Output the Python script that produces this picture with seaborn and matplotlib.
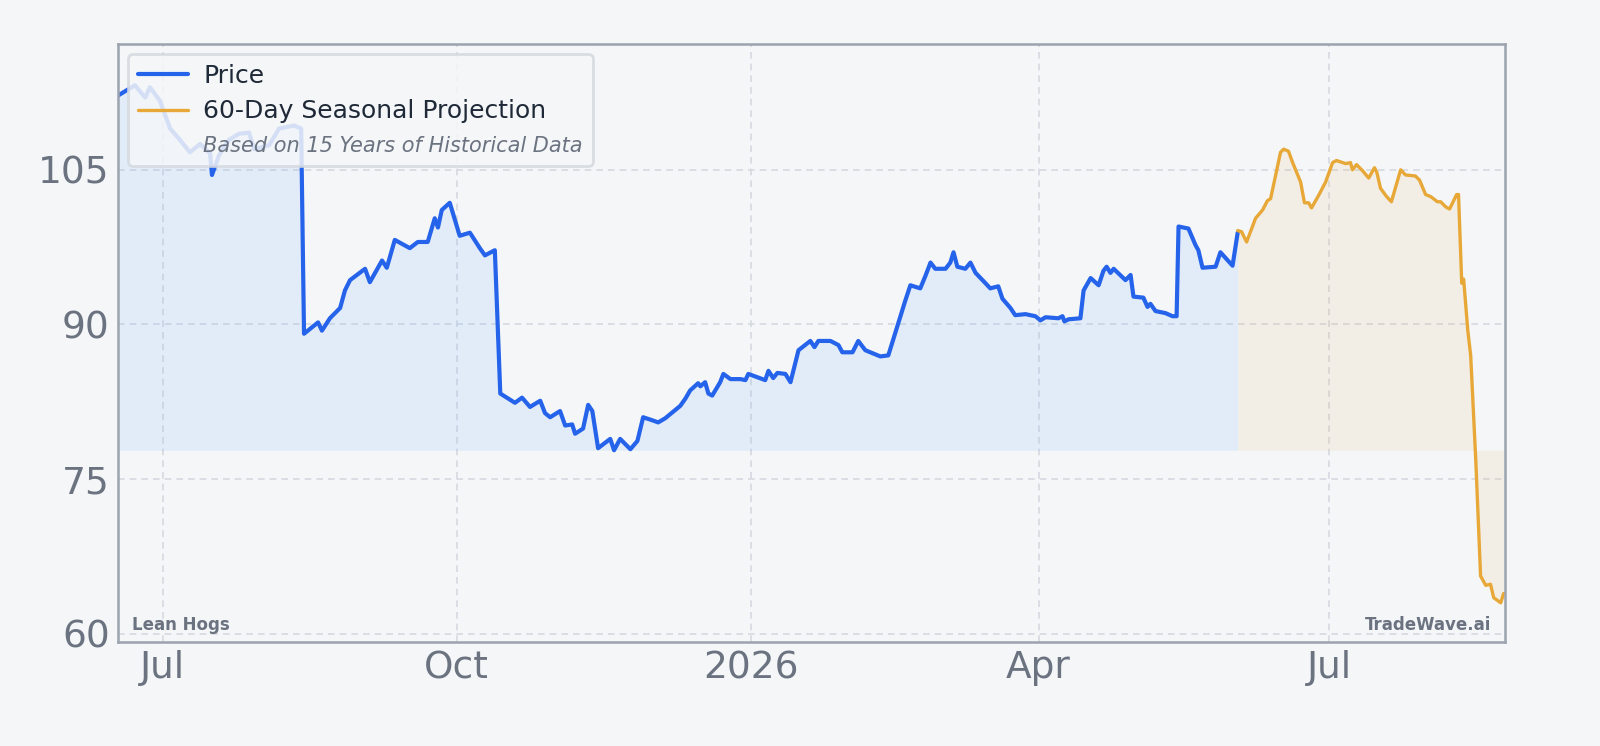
import numpy as np
import pandas as pd
import matplotlib
matplotlib.use("Agg")
import matplotlib.pyplot as plt
import seaborn as sns
from matplotlib.lines import Line2D

START = pd.Timestamp("2025-06-17")
# days since START
price_days = [0, 5.3, 8.5, 10.0, 13.1, 16.3, 19.4, 22.5, 25.7, 28.8, 29.4, 31.6, 34.7, 37.9, 41.0, 42.6, 47.3, 50.4, 55.1, 57.3, 58.2, 62.6, 63.8, 66.3, 69.5, 71.0, 72.6, 77.3, 78.8, 82.6, 84.1, 86.6, 91.3, 93.8, 96.9, 99.1, 100.1, 101.3, 103.8, 106.9, 110.1, 113.2, 114.8, 117.9, 119.6, 124.2, 126.4, 128.9, 132.1, 133.6, 135.2, 138.3, 139.9, 142.1, 143.0, 145.5, 147.1, 148.4, 150.2, 154.0, 155.2, 157.1, 160.3, 162.5, 164.3, 167.2, 169.0, 171.2, 175.9, 177.5, 179.0, 181.5, 182.2, 183.7, 184.7, 185.9, 188.4, 189.4, 191.6, 194.7, 196.3, 197.2, 202.5, 203.5, 205.0, 206.3, 208.8, 210.4, 212.9, 216.6, 217.9, 219.1, 222.9, 225.4, 226.6, 229.8, 231.6, 233.8, 238.5, 241.0, 246.3, 247.9, 251.0, 252.6, 254.2, 255.7, 258.9, 260.4, 261.4, 262.6, 265.1, 266.7, 268.3, 271.4, 272.9, 275.4, 276.7, 279.2, 280.7, 283.9, 287.0, 288.6, 290.2, 294.2, 295.5, 296.1, 297.4, 301.1, 302.1, 304.3, 306.8, 308.3, 309.3, 310.5, 311.5, 315.2, 316.8, 317.7, 320.8, 322.1, 323.0, 324.6, 327.7, 329.9, 331.2, 331.8, 334.9, 337.1, 338.0, 339.3, 343.4, 344.9, 348.7, 350.3]
price_vals = [112.2, 113.2, 112, 113, 111.7, 109, 107.9, 106.7, 107.5, 106.6, 104.5, 106.4, 107.9, 108.5, 108.6, 107, 107.4, 109, 109.3, 109.0, 89.1, 90.2, 89.4, 90.6, 91.6, 93.3, 94.3, 95.4, 94.1, 96.2, 95.5, 98.2, 97.4, 98, 98, 100.3, 99.4, 101.1, 101.8, 98.6, 98.9, 97.4, 96.7, 97.2, 83.3, 82.4, 82.9, 82, 82.6, 81.4, 81, 81.6, 80.2, 80.3, 79.4, 79.9, 82.2, 81.6, 78, 78.9, 77.8, 78.9, 77.9, 78.7, 81, 80.7, 80.5, 80.9, 82.1, 82.8, 83.6, 84.3, 84, 84.4, 83.3, 83.1, 84.4, 85.2, 84.7, 84.7, 84.6, 85.2, 84.6, 85.5, 84.8, 85.3, 85.2, 84.4, 87.5, 88.4, 87.8, 88.4, 88.4, 88, 87.3, 87.3, 88.4, 87.5, 86.9, 87, 92.3, 93.8, 93.5, 94.7, 96, 95.4, 95.4, 96, 97, 95.6, 95.4, 96, 95, 94, 93.5, 93.7, 92.5, 91.6, 90.9, 91, 90.8, 90.4, 90.7, 90.6, 90.8, 90.3, 90.5, 90.6, 93.3, 94.5, 93.8, 95.2, 95.6, 95, 95.4, 94.3, 94.8, 92.7, 92.6, 91.7, 92, 91.3, 91.1, 90.8, 90.8, 99.5, 99.3, 97.7, 97.2, 95.5, 95.6, 97, 95.7, 98.9]
proj_days = [350.3, 351.5, 353.1, 355.9, 358.1, 359.6, 360.6, 362.2, 363.7, 364.7, 366.2, 367.5, 370.0, 371.2, 372.5, 373.4, 375.6, 377.8, 380.0, 381.2, 384.1, 385.6, 386.2, 387.5, 389.4, 391.3, 393.1, 393.8, 395.0, 396.9, 398.4, 399.7, 401.3, 402.8, 405.9, 407.2, 409.1, 410.7, 412.8, 413.8, 415.4, 416.6, 418.8, 419.4, 420.4, 421.0, 422.3, 423.2, 424.8, 426.3, 427.9, 429.4, 430.4, 432.6, 433.5]
proj_vals = [99.1, 99, 98, 100.3, 101.1, 102, 102.2, 104.5, 106.7, 107, 106.8, 105.7, 103.8, 101.8, 101.8, 101.3, 102.5, 103.8, 105.7, 105.9, 105.6, 105.7, 105, 105.5, 104.9, 104.2, 105.2, 104.8, 103.2, 102.4, 101.9, 103.3, 105, 104.5, 104.4, 104, 102.6, 102.4, 101.9, 101.9, 101.4, 101.2, 102.6, 102.6, 94, 94.4, 89.4, 87, 76.8, 65.6, 64.7, 64.8, 63.5, 63, 63.9]
tick_dates = ["2025-07-01", "2025-10-01", "2026-01-01", "2026-04-01", "2026-07-01"]
tick_labels = ["Jul", "Oct", "2026", "Apr", "Jul"]
y_ticks = [60, 75, 90, 105]

BG = "#f4f6f8"
GRAY = "#6b7280"
sns.set_theme(style="white")
plt.rcParams['font.family'] = ['DejaVu Sans']

pdf = pd.DataFrame({"date": START + pd.to_timedelta(price_days, unit="D"), "v": price_vals})
jdf = pd.DataFrame({"date": START + pd.to_timedelta(proj_days, unit="D"), "v": proj_vals})

fig = plt.figure(figsize=(8, 3.73), dpi=200, facecolor=BG)
ax = fig.add_axes([0.07375, 0.1394, 0.867, 0.8016], facecolor=BG)

base = min(price_vals)
ax.fill_between(pdf["date"], pdf["v"], base, color="#60a5fa", alpha=0.12, lw=0)
ax.fill_between(jdf["date"], jdf["v"], base, color="#e8a838", alpha=0.09, lw=0)
sns.lineplot(data=pdf, x="date", y="v", ax=ax, color="#2563eb", lw=1.5, label="Price")
sns.lineplot(data=jdf, x="date", y="v", ax=ax, color="#e8a838", lw=1.2, label="60-Day Seasonal Projection")

ax.set_xlim(START, START + pd.Timedelta(days=434))
ax.set_ylim(59.2, 117.2)
ax.set_xticks(pd.to_datetime(tick_dates))
ax.set_xticklabels(tick_labels)
ax.set_yticks(y_ticks)
ax.set_xlabel("")
ax.set_ylabel("")
ax.tick_params(labelsize=13.5, colors=GRAY, length=0, pad=3)
ax.grid(True, color="#d5d9e0", ls=(0, (4, 3)), lw=0.6)
for s in ax.spines.values():
    s.set_color("#9ca3af")
    s.set_linewidth(0.9)

h, l = ax.get_legend_handles_labels()
h.append(Line2D([], [], color="none"))
l.append("Based on 15 Years of Historical Data")
leg = ax.legend(h, l, loc="upper left", fontsize=9, frameon=True, facecolor=BG,
                edgecolor="#d5d9e0", framealpha=0.85, handlelength=2.0,
                borderaxespad=0.4, labelspacing=0.45, handletextpad=0.6)
for t in leg.get_texts():
    t.set_color("#1f2937")
lt = leg.get_texts()[2]
lt.set_fontstyle("italic")
lt.set_fontsize(7.5)
lt.set_color(GRAY)

ax.text(0.01, 0.02, "Lean Hogs", transform=ax.transAxes, fontsize=6, fontweight="bold", color=GRAY)
ax.text(0.99, 0.02, "TradeWave.ai", transform=ax.transAxes, fontsize=6, fontweight="bold", color=GRAY, ha="right")

fig.savefig("out.png", dpi=200, facecolor=BG)
